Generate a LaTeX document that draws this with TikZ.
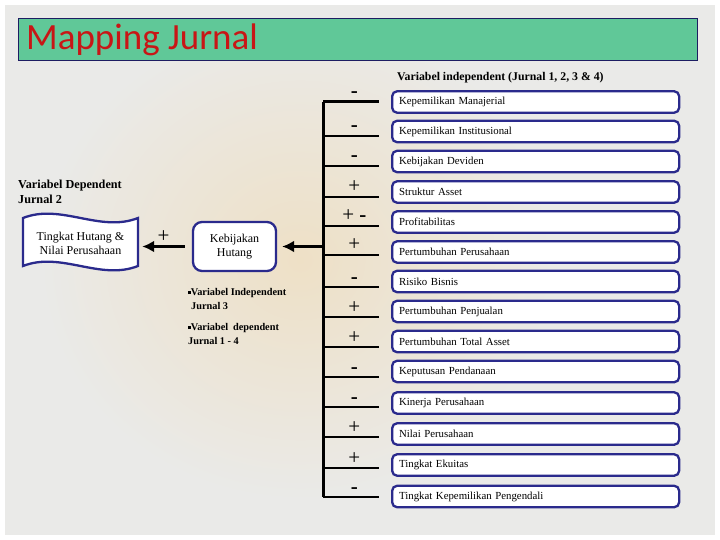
\documentclass[tikz,border=0pt]{standalone}
\usepackage{fontspec}
\setmainfont{Liberation Serif}
\newfontfamily\titlefont{Carlito}
\usepackage{tikz}
\usetikzlibrary{calc, positioning, arrows.meta}
\usepackage{xcolor}
\definecolor{titlebg}{RGB}{96, 200, 152}
\definecolor{titlered}{RGB}{200, 22, 22}
\definecolor{boxblue}{RGB}{42, 42, 140}
\definecolor{pagebg}{RGB}{234, 234, 232}
\definecolor{warmbg}{RGB}{238, 224, 198}
\newcommand{\sqmark}{\rule[1.5pt]{2.6pt}{2.6pt}}

\begin{document}
\begin{tikzpicture}[x=1pt, y=-1pt,
  varbox/.style={draw=boxblue, line width=2.3pt, rounded corners=5pt, fill=white,
    anchor=west, text width=273pt, minimum height=21.5pt, inner xsep=7pt, align=left,
    font=\fontsize{10.8}{12}\selectfont},
  branch/.style={line width=2.8pt},
  bigarrow/.style={line width=3.5pt, -{Latex[length=12pt, width=12pt]}},
  sign/.style={font=\fontsize{21}{21}\selectfont, inner sep=0pt, anchor=base, yshift=4pt}]
  \useasboundingbox (0,0) rectangle (720,540);
  % page and soft background
  \fill[white] (0,0) rectangle (720,540);
  \fill[pagebg] (5,5) rectangle (715,535);
  \begin{scope}
    \clip (5,5) rectangle (715,535);
    \shade[inner color=warmbg, outer color=pagebg] (300,260) ellipse [x radius=260, y radius=240];
  \end{scope}

  % title bar
  \node[draw=boxblue!70!black, line width=0.8pt, fill=titlebg, anchor=north west,
    minimum width=679pt, minimum height=42pt, inner sep=0pt] (titlebar) at (18,18) {};
  \node[font=\titlefont\fontsize{37}{37}\selectfont, text=titlered, anchor=base west,
    inner sep=0pt] (title) at (26,50) {Mapping Jurnal};

  % independent variables with signs
  \node[font=\fontsize{11.8}{13}\selectfont\bfseries, anchor=west, inner sep=0pt] (hdr)
    at (397,78) {Variabel independent (Jurnal 1, 2, 3 \& 4)};
  \foreach \lbl/\by/\ly/\sg [count=\i] in {
      Kepemilikan Manajerial/102/101.7/\textbf{-},
      Kepemilikan Institusional/131.5/136/\textbf{-},
      Kebijakan Deviden/161.5/166/\textbf{-},
      Struktur Asset/192/197/+,
      Profitabilitas/222/226/{+ \textbf{-}},
      Pertumbuhan Perusahaan/252/255/+,
      Risiko Bisnis/281.5/287/\textbf{-},
      Pertumbuhan Penjualan/311.5/317/+,
      Pertumbuhan Total Asset/341.5/347/+,
      Keputusan Pendanaan/371.5/377/\textbf{-},
      Kinerja Perusahaan/403/407/\textbf{-},
      Nilai Perusahaan/434/437/+,
      Tingkat Ekuitas/465/468/+,
      Tingkat Kepemilikan Pengendali/496.5/497/\textbf{-}} {
    \node[varbox] (v\i) at (391,\by) {\lbl};
    \coordinate (t\i) at (323,\ly);
    \draw[branch] (t\i) -- ($(t\i -| v\i.west)+(-12,0)$) node[sign, pos=0.56] (s\i) {\sg};
  }
  \draw[line width=3pt] (t1) -- (t14);

  % dependent side
  \node[draw=boxblue, line width=2.3pt, rounded corners=9pt, fill=white,
    minimum width=83pt, minimum height=49pt, align=center,
    font=\fontsize{12}{14}\selectfont] (kh) at (234.5,246.5) {Kebijakan\\Hutang};
  \draw[draw=boxblue, line width=2.3pt, fill=white]
    (23,218) .. controls (61,203) and (100,233) .. (138,218)
    -- (138,266) .. controls (100,281) and (61,251) .. (23,266) -- cycle;
  \node[minimum width=115pt, minimum height=52pt, align=center,
    font=\fontsize{12}{14}\selectfont] (th) at (80.5,243) {Tingkat Hutang \&\\Nilai Perusahaan};
  \node[font=\fontsize{12.2}{15}\selectfont\bfseries, anchor=west, align=left,
    inner sep=0pt] (dep) at (18,192) {Variabel Dependent\\Jurnal 2};

  \draw[bigarrow] (t1 |- kh) -- ([xshift=5pt]kh.east);
  \draw[bigarrow] ([xshift=-7pt]kh.west) -- ($(th.east |- kh.west)+(4,0)$)
    node[sign, midway] (plus) {+};

  % notes under Kebijakan Hutang
  \node[font=\fontsize{10.3}{14}\selectfont\bfseries, anchor=west, align=left,
    inner sep=0pt] (indep) at (188,299) {\sqmark Variabel Independent\\\hspace{3pt}Jurnal 3};
  \node[font=\fontsize{10.3}{14}\selectfont\bfseries, anchor=west, align=left,
    inner sep=0pt] (alldep) at (188,334) {\sqmark Variabel\hspace{5pt}dependent\\Jurnal 1 - 4};
\end{tikzpicture}
\end{document}
